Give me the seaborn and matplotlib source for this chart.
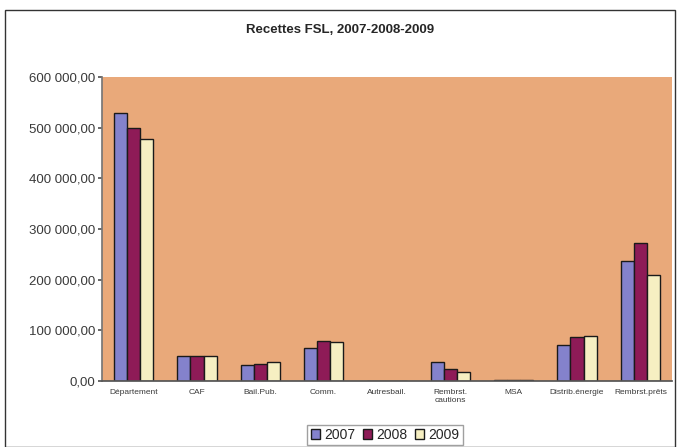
import matplotlib
matplotlib.use("Agg")
import matplotlib.pyplot as plt
from matplotlib.patches import Rectangle
from matplotlib.ticker import FuncFormatter
import seaborn as sns
import pandas as pd

categories = ["Département", "CAF", "Bail.Pub.", "Comm.", "Autresbail.",
              "Rembrst.\ncautions", "MSA", "Distrib.énergie", "Rembrst.prêts"]
years = ["2007", "2008", "2009"]
values_2007 = [528000, 49000, 31000, 64500, 0, 37500, 2500, 71000, 237000]
values_2008 = [500000, 49000, 33000, 79500, 0, 24000, 2500, 86000, 272000]
values_2009 = [477000, 49000, 37500, 77000, 0, 18000, 2500, 89000, 209000]
yticks = [0, 100000, 200000, 300000, 400000, 500000, 600000]

rows = []
for yr, vals in zip(years, [values_2007, values_2008, values_2009]):
    for cat, v in zip(categories, vals):
        rows.append({"poste": cat, "annee": yr, "montant": v})
df = pd.DataFrame(rows)

sns.set_theme(style="white")
plt.rcParams["font.family"] = ["Liberation Sans", "DejaVu Sans"]

fig = plt.figure(figsize=(6.77, 4.47), dpi=100)
ax = fig.add_axes([102 / 677, 1 - 381 / 447, 570 / 677, 304 / 447])

palette = {"2007": "#8482cc", "2008": "#8e1b57", "2009": "#f6efc2"}
sns.barplot(data=df, x="poste", y="montant", hue="annee", palette=palette,
            width=0.62, gap=0, edgecolor="#1a1a1a", linewidth=1.0,
            saturation=1, ax=ax, legend=True)

ax.set_facecolor("#e9a97a")
ax.set_ylim(0, 600000)
ax.set_yticks(yticks)
ax.yaxis.set_major_formatter(
    FuncFormatter(lambda v, p: f"{int(v):,}".replace(",", " ") + ",00"))
ax.tick_params(axis="y", labelsize=9.5, length=3, color="#555555", pad=2, left=True)
ax.tick_params(axis="x", labelsize=6, length=0, pad=6)
for lbl in ax.get_xticklabels():
    lbl.set_color("#3a3a3a")
for lbl in ax.get_yticklabels():
    lbl.set_color("#3a3a3a")
ax.set_xlabel("")
ax.set_ylabel("")
for side in ["top", "right"]:
    ax.spines[side].set_visible(False)
ax.spines["left"].set_color("#777777")
ax.spines["bottom"].set_color("#555555")

handles, labels = ax.get_legend_handles_labels()
ax.get_legend().remove()
fig.legend(handles, labels, loc="center", bbox_to_anchor=(385 / 677, 1 - 435 / 447),
           ncol=3, fontsize=10, frameon=True, fancybox=False, edgecolor="#888888",
           handlelength=0.7, handleheight=0.7, handletextpad=0.3, columnspacing=0.5,
           borderpad=0.25)

fig.text(340 / 677, 1 - 30 / 447, "Recettes FSL, 2007-2008-2009",
         ha="center", va="center", fontsize=9.5, fontweight="bold")

fig.patches.append(Rectangle((5 / 677, 0), 670 / 677, 1 - 10 / 447,
                             transform=fig.transFigure, fill=False,
                             edgecolor="#333333", linewidth=1.0))

fig.savefig("out.png", dpi=100, facecolor="white")
